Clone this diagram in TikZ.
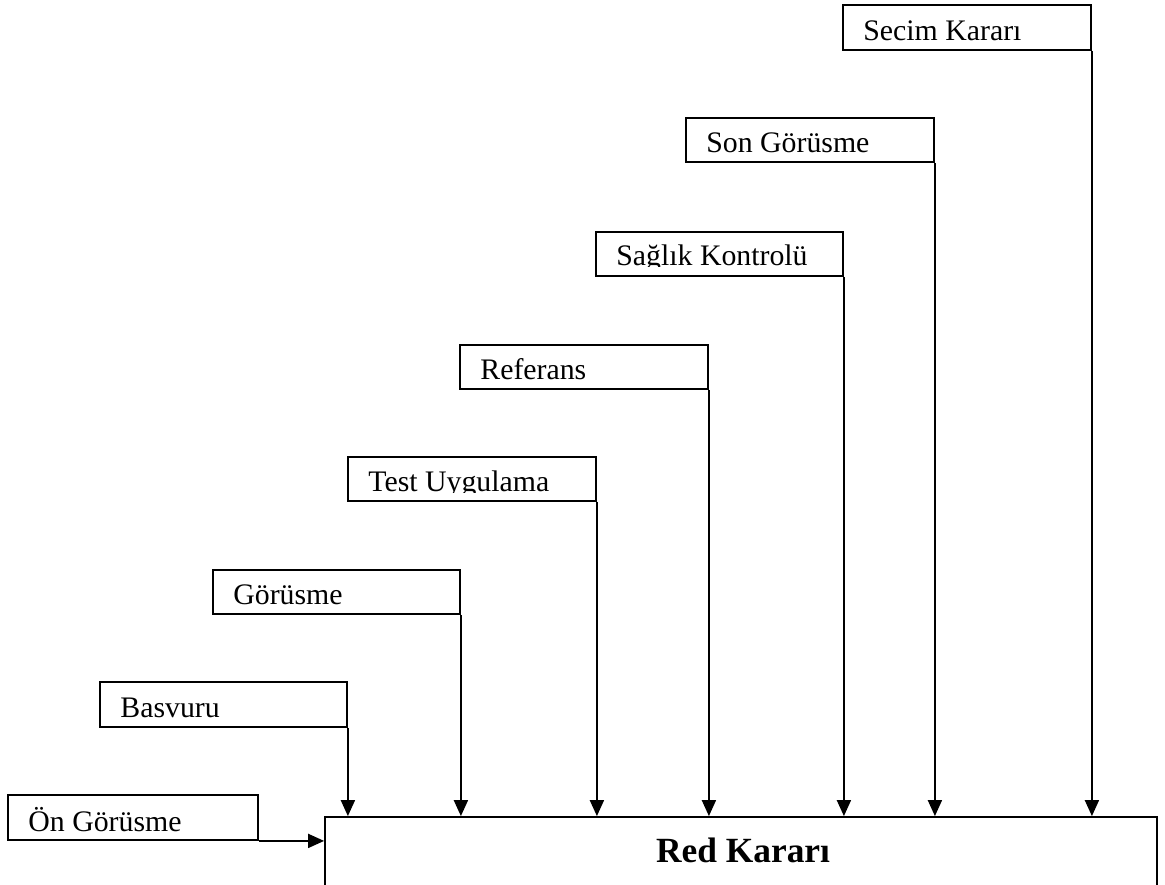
\documentclass[tikz,border=0pt]{standalone}
\usepackage{fontspec}
\setmainfont{Liberation Serif}
\usetikzlibrary{fit,arrows.meta}
\tikzset{
  stagebox/.style={draw, line width=0.9pt, inner sep=0pt, fill=none},
  lbl/.style={anchor=base west, inner sep=0pt, font=\fontsize{14.9pt}{16pt}\selectfont},
  title/.style={anchor=base, inner sep=0pt, font=\fontsize{17.7pt}{20pt}\selectfont\bfseries},
  arr/.style={line width=0.9pt, -{Triangle[length=8pt,width=7pt]}}
}
\newcommand\stage[7]{% name, left, top, right, bottom, text
  \node[stagebox, fit={(#2,#3) (#4,#5)}] (#1) {};
  \begin{scope}
    \clip (#2,#3) rectangle (#4,#6);
    \node[lbl] (#1-t) at (#2+20,#6-1) {#7};
  \end{scope}}
\begin{document}
\begin{tikzpicture}[x=0.5pt,y=-0.5pt]
\useasboundingbox (0,0) rectangle (1165,884);
\clip (0,0) rectangle (1165,884);
% main box (open at bottom of picture)
\node[stagebox, fit={(325,817) (1157,920)}] (red) {};
\node[title] (redt) at (743,862) {Red Kararı};
% stages: name, left, top, right, bottom, clip/baseline, text
\stage{ongor}{8}{795}{258}{840}{832}{Ön Görüsme}
\stage{basvuru}{100}{682}{347}{727}{718}{Basvuru}
\stage{gorusme}{213}{570}{460}{614}{605}{Görüsme}
\stage{test}{348}{457}{596}{501}{492}{Test Uygulama}
\stage{referans}{460}{345}{708}{389}{380}{Referans}
\stage{saglik}{596}{232}{843}{276}{266}{Sağlık Kontrolü}
\stage{son}{686}{118}{934}{162}{153}{Son Görüsme}
\stage{secim}{843}{5}{1091}{50}{41}{Secim Kararı}
% connectors
\draw[arr] (ongor.south east) -- (ongor.south east -| red.west);
\foreach \s in {basvuru,gorusme,test,referans,saglik,son,secim}
  \draw[arr] (\s.south east) -- (\s.south east |- red.north);
\end{tikzpicture}
\end{document}
